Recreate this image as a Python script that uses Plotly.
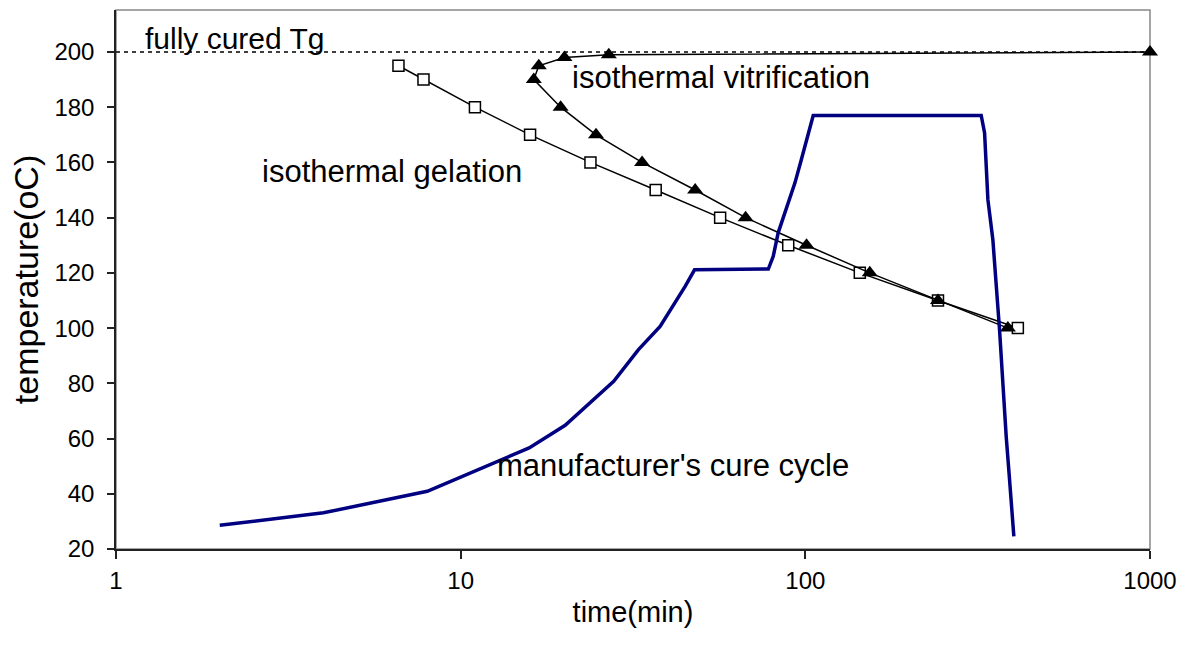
import plotly.graph_objects as go

# ---- data ----
gel_time = [6.6, 7.8, 11.0, 15.9, 23.8, 36.8, 56.6, 89.2, 143.9, 242.6, 413.6]
gel_temp = [195, 190, 180, 170, 160, 150, 140, 130, 120, 110, 100]

vit_time = [386.9, 242.6, 153.8, 100.8, 67.1, 47.9, 33.6, 24.7, 19.5, 16.3, 16.85, 20.0, 26.9, 1000]
vit_temp = [100, 110, 120, 130, 140, 150, 160, 170, 180, 190, 195, 198, 199, 200]

cure_time = [2.0, 4.0, 8.0, 11.7, 15.8, 20.1, 27.8, 32.8, 37.9, 44.8, 47.7, 78.1, 80.7, 83.4,
             88.0, 93.3, 97.3, 100.6, 105.4, 323.8, 331.2, 338.6, 350, 366, 374.2, 382.6, 391.3, 402.7]
cure_temp = [28.6, 33.1, 40.9, 49.5, 56.6, 64.8, 80.7, 92.2, 100.6, 115.1, 121.1, 121.4, 126, 134.5,
             142.8, 152.6, 160.9, 168, 177, 177, 170.7, 146.5, 132, 99.4, 78.9, 60.8, 45.1, 24.6]

tg_time = [1, 1000]
tg_temp = [200, 200]

x_ticks = [1, 10, 100, 1000]
x_tick_labels = ["1", "10", "100", "1000"]
y_ticks = [20, 40, 60, 80, 100, 120, 140, 160, 180, 200]

FONT = "Liberation Sans, Arial, sans-serif"

fig = go.Figure()

fig.add_trace(go.Scatter(
    x=tg_time, y=tg_temp, mode="lines",
    line=dict(color="black", width=1.5, dash="4px,4px"),
    showlegend=False, hoverinfo="skip"))

fig.add_trace(go.Scatter(
    x=gel_time, y=gel_temp, mode="lines+markers",
    line=dict(color="black", width=1.5),
    marker=dict(symbol="square", size=11, color="white",
                line=dict(color="black", width=1.5)),
    showlegend=False, cliponaxis=False))

fig.add_trace(go.Scatter(
    x=vit_time, y=vit_temp, mode="lines+markers",
    line=dict(color="black", width=1.5),
    marker=dict(symbol="triangle-up", size=14, color="black",
                line=dict(color="black", width=0)),
    showlegend=False, cliponaxis=False))

fig.add_trace(go.Scatter(
    x=cure_time, y=cure_temp, mode="lines",
    line=dict(color="#000080", width=3.5),
    showlegend=False))

ann_font = dict(family=FONT, size=31, color="black")
annotations = [
    dict(text="fully cured Tg", x=0.077, y=204.7, size=30),
    dict(text="isothermal vitrification", x=1.316, y=190.6, size=31),
    dict(text="isothermal gelation", x=0.4185, y=156.6, size=31),
    dict(text="manufacturer's cure cycle", x=1.099, y=50.2, size=31),
]
for a in annotations:
    fig.add_annotation(text=a["text"], x=a["x"], y=a["y"], xref="x", yref="y",
                       xanchor="left", yanchor="middle", showarrow=False,
                       font=dict(family=FONT, size=a["size"], color="black"))

fig.add_shape(type="rect", xref="paper", yref="paper", x0=0, x1=1, y0=0, y1=1,
              line=dict(color="#888888", width=1.5), layer="below")

fig.update_layout(
    width=1187, height=652,
    margin=dict(l=116, r=35, t=10, b=103),
    paper_bgcolor="white", plot_bgcolor="white",
    font=dict(family=FONT, color="black"),
    xaxis=dict(
        type="log", range=[0, 3],
        tickvals=x_ticks, ticktext=x_tick_labels,
        ticks="outside", ticklen=8, tickwidth=1.5, tickcolor="#222",
        showline=True, linecolor="#222", linewidth=1.5,
        showgrid=False, zeroline=False,
        tickfont=dict(size=24), ticklabelstandoff=1,
        title=dict(text="time(min)", font=dict(size=29), standoff=9),
    ),
    yaxis=dict(
        range=[20, 215.2],
        tickvals=y_ticks,
        ticks="outside", ticklen=7, tickwidth=1.5, tickcolor="#222",
        showline=True, linecolor="#222", linewidth=1.5,
        showgrid=False, zeroline=False,
        tickfont=dict(size=24), ticklabelstandoff=8,
        title=dict(text="temperature(oC)", font=dict(size=34), standoff=6),
    ),
)

fig.write_html("out.html")
